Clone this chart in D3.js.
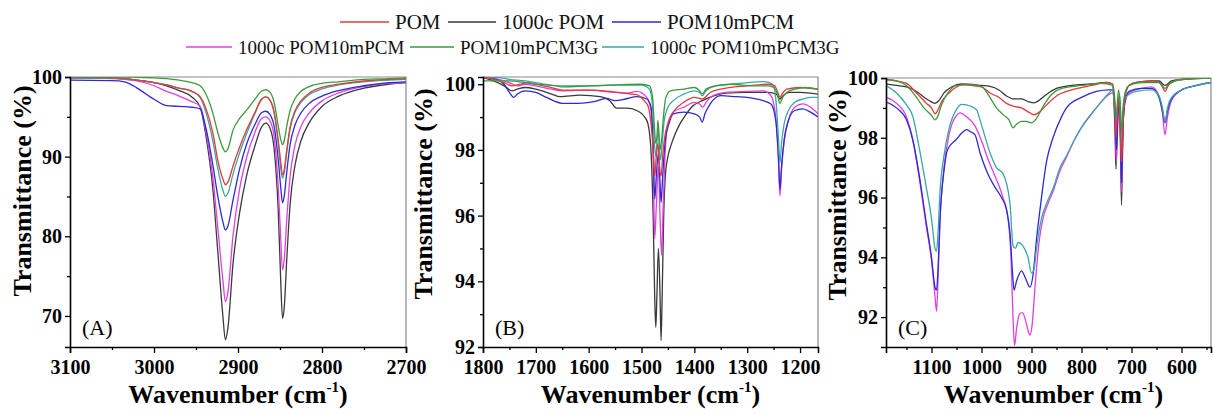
<!DOCTYPE html>
<html><head><meta charset="utf-8">
<script src="https://cdn.jsdelivr.net/npm/d3@7"></script>
<style>
body{margin:0;background:#fff;}
svg text{font-family:"Liberation Serif","Times New Roman",serif;}
</style></head>
<body><svg id="c" width="1213" height="414"></svg>
<script>
// ---------------- DATA ----------------
const seriesNames = ["POM","1000c POM","POM10mPCM","1000c POM10mPCM","POM10mPCM3G","1000c POM10mPCM3G"];
const seriesColors = ["#e23a3a","#3a3a3a","#2b2bd4","#e03fe0","#3c9a3c","#3aa6a6"];

// Panel A (3100-2700 cm-1)
const waveA = [3100,3050,3035,3020,3000,2985,2970,2955,2945,2938,2930,2924,2918,2915,2912,2906,2898,2890,2880,2872,2867,2862,2857,2852,2849,2847,2845,2842,2838,2832,2825,2815,2800,2780,2750,2720,2700];
const A_POM = [99.95,99.9,99.8,99.6,99.3,99.0,98.6,98.2,97.5,96,93,89.5,87.2,86.5,86.8,88.8,91.2,93.3,95.5,97.2,97.5,97.1,95.6,92,89.2,87.7,88.3,90.8,93.7,95.8,97,98,98.7,99.1,99.5,99.7,99.8];
const A_1000cPOM = [99.9,99.85,99.75,99.6,99.3,98.9,98.3,97.5,96.2,92.5,86,78,70,67,68.5,76.5,83,87.5,91.3,93.7,94.2,93.6,91,83,74,69.7,71,77,84,89,92,94.3,96.3,97.6,98.6,99.1,99.3];
const A_POM10mPCM = [99.6,99.55,99.4,98.6,97.2,96.4,96.3,96.2,96.0,93.5,89,85,81.8,80.8,81.3,84.5,88.5,91.5,94,95.5,95.7,95.3,93.8,89.5,86,84.2,85,88,91.5,94,95.5,96.7,97.6,98.3,98.9,99.3,99.4];
const A_1000cPOM10mPCM = [99.9,99.8,99.7,99.5,98.9,98.2,97.6,96.9,96.3,93,87.5,81,74.5,71.8,73,80,86,89.8,93,94.8,95.0,94.5,92.5,86,79.5,75.8,77,82,87.5,91.5,93.8,95.5,97,98,98.8,99.2,99.3];
const A_POM10mPCM3G = [100,100,100,99.95,99.9,99.8,99.6,99.3,98.9,97.8,95.5,93,91.1,90.6,91,93.3,94.8,95.8,97.2,98.2,98.4,98.1,96.8,93.8,92.1,91.5,92,93.8,95.8,97.3,98.2,98.8,99.2,99.4,99.7,99.8,99.9];
const A_1000cPOM10mPCM3G = [99.9,99.85,99.75,99.6,99.3,99.0,98.6,98.2,97.4,95.5,92,88.5,85.8,85.0,85.4,87.8,90.5,92.8,95.4,97.2,97.5,97.1,95.5,91.5,88.5,87.3,88,90.5,93.5,95.6,96.8,97.8,98.5,99.0,99.4,99.6,99.7];

// Panel B (1800-1166 cm-1) [wavenumber, %T]
const B_POM = [[1800,100.2],[1780,100.15],[1760,100.05],[1745,99.95],[1730,100.0],[1715,100.05],[1700,100.0],[1670,99.9],[1650,99.82],[1620,99.82],[1600,99.82],[1560,99.78],[1530,99.72],[1509,99.68],[1495,99.5],[1488,99.35],[1482,98.8],[1478,98.0],[1475,97.2],[1472,97.8],[1469,98.2],[1466,97.5],[1463,97.2],[1460,97.8],[1456,98.4],[1450,98.8],[1440,99.15],[1420,99.45],[1400,99.6],[1385,99.55],[1370,99.75],[1350,99.85],[1300,99.95],[1260,100.0],[1248,99.95],[1242,99.75],[1238,99.6],[1234,99.7],[1225,99.85],[1200,99.9],[1166,99.85]];
const B_1000cPOM = [[1800,100.2],[1780,100.1],[1760,99.95],[1745,99.8],[1735,99.85],[1720,99.9],[1700,99.85],[1670,99.7],[1654,99.62],[1616,99.67],[1578,99.62],[1560,99.5],[1547,99.27],[1528,99.27],[1509,99.2],[1490,98.9],[1483,98.2],[1478,96.0],[1475,93.5],[1473,92.6],[1471,93.5],[1468,95.0],[1465,93.6],[1463,92.2],[1461,93.5],[1458,96.0],[1455,97.2],[1450,97.8],[1445,98.1],[1436,98.5],[1427,98.8],[1415,99.1],[1402,99.35],[1385,99.5],[1371,99.6],[1340,99.73],[1300,99.75],[1260,99.75],[1245,99.7],[1238,99.55],[1232,99.65],[1220,99.75],[1200,99.75],[1166,99.7]];
const B_POM10mPCM = [[1800,100.2],[1775,100.15],[1760,100.0],[1750,99.75],[1742,99.6],[1735,99.7],[1720,99.8],[1700,99.75],[1680,99.6],[1650,99.42],[1620,99.42],[1590,99.47],[1566,99.57],[1550,99.5],[1530,99.55],[1509,99.62],[1490,99.55],[1482,99.3],[1478,98.2],[1475,96.5],[1472,97.2],[1468,97.9],[1465,97.0],[1463,96.4],[1460,97.2],[1455,98.3],[1448,98.8],[1440,99.1],[1420,99.15],[1400,99.1],[1390,99.0],[1385,98.85],[1380,99.1],[1370,99.4],[1350,99.65],[1320,99.62],[1300,99.6],[1270,99.5],[1255,99.4],[1246,98.9],[1241,97.8],[1238,96.8],[1235,97.5],[1230,98.3],[1222,98.9],[1210,99.2],[1195,99.25],[1180,99.15],[1166,99.0]];
const B_1000cPOM10mPCM = [[1800,100.2],[1770,100.15],[1750,100.05],[1735,99.95],[1720,100.0],[1700,99.95],[1670,99.85],[1650,99.8],[1600,99.82],[1550,99.75],[1528,99.73],[1509,99.78],[1490,99.6],[1482,99.2],[1478,97.8],[1475,95.3],[1472,96.3],[1468,97.5],[1465,96.0],[1462,94.8],[1459,96.3],[1455,98.0],[1450,98.8],[1440,99.15],[1420,99.3],[1400,99.45],[1390,99.4],[1384,99.3],[1378,99.45],[1365,99.65],[1340,99.75],[1300,99.78],[1270,99.8],[1255,99.65],[1246,99.0],[1241,97.8],[1238,96.6],[1235,97.4],[1230,98.3],[1222,98.9],[1210,99.3],[1195,99.4],[1180,99.3],[1166,99.1]];
const B_POM10mPCM3G = [[1800,100.1],[1770,100.1],[1750,100.1],[1720,100.05],[1700,100.0],[1660,99.95],[1650,99.92],[1600,99.95],[1550,99.98],[1500,100.0],[1485,99.95],[1479,99.6],[1476,98.8],[1473,98.2],[1470,98.6],[1469,98.9],[1467,98.5],[1465,98.0],[1462,98.3],[1458,99.1],[1454,99.6],[1445,99.8],[1420,99.85],[1400,99.9],[1390,99.8],[1385,99.7],[1378,99.85],[1360,99.95],[1330,100.0],[1290,99.95],[1260,99.95],[1250,99.9],[1243,99.7],[1238,99.42],[1233,99.6],[1225,99.75],[1210,99.85],[1190,99.9],[1166,99.85]];
const B_1000cPOM10mPCM3G = [[1800,100.2],[1770,100.2],[1750,100.15],[1720,100.1],[1700,100.05],[1660,99.95],[1600,99.95],[1550,99.97],[1500,99.97],[1485,99.85],[1479,99.3],[1476,98.3],[1473,97.8],[1470,98.4],[1468,98.6],[1466,98.0],[1464,97.7],[1461,98.2],[1457,98.9],[1450,99.3],[1440,99.5],[1420,99.7],[1400,99.8],[1390,99.75],[1385,99.65],[1378,99.8],[1360,99.95],[1330,100.0],[1300,100.05],[1270,100.08],[1258,100.05],[1250,99.95],[1245,99.4],[1241,98.4],[1238,97.6],[1235,98.2],[1230,98.8],[1222,99.2],[1210,99.45],[1195,99.55],[1180,99.6],[1166,99.6]];

// Panel C (1191-541 cm-1)
const C_POM = [[1191,99.95],[1170,99.9],[1150,99.82],[1130,99.5],[1110,99.15],[1100,99.0],[1093,98.8],[1088,98.9],[1080,99.2],[1065,99.5],[1050,99.7],[1037,99.78],[1020,99.75],[1000,99.7],[983,99.5],[965,99.35],[950,99.15],[935,99.05],[920,99.0],[905,98.85],[895,98.77],[885,98.85],[870,99.1],[850,99.4],[820,99.6],[780,99.75],[750,99.85],[738,99.8],[733,99.2],[731,98.0],[728,99.0],[725,99.3],[723,98.5],[720,97.2],[717,98.5],[713,99.4],[705,99.75],[690,99.85],[660,99.9],[645,99.85],[638,99.7],[633,99.55],[628,99.7],[620,99.85],[600,99.95],[570,99.98],[541,100.0]];
const C_1000cPOM = [[1191,99.8],[1170,99.75],[1150,99.7],[1130,99.55],[1110,99.3],[1100,99.2],[1093,99.15],[1085,99.25],[1075,99.5],[1060,99.7],[1040,99.8],[1000,99.75],[983,99.72],[965,99.6],[950,99.4],[935,99.3],[920,99.3],[905,99.2],[895,99.17],[885,99.25],[870,99.45],[850,99.65],[820,99.75],[780,99.8],[750,99.85],[738,99.8],[733,98.2],[731,96.95],[729,98.2],[726,99.2],[723,98.5],[720,95.75],[717,98.3],[713,99.4],[705,99.75],[690,99.85],[660,99.9],[645,99.9],[633,99.75],[620,99.9],[600,99.95],[541,100.0]];
const C_POM10mPCM = [[1191,99.2],[1170,99.0],[1150,98.6],[1137,97.9],[1125,96.8],[1110,95.1],[1100,94.0],[1093,93.0],[1090,92.9],[1087,93.6],[1083,95.3],[1075,96.9],[1068,97.6],[1050,97.95],[1040,98.15],[1030,98.27],[1022,98.2],[1013,98.1],[1003,97.5],[990,96.9],[975,96.4],[960,96.0],[950,95.6],[943,94.8],[938,93.5],[935,92.9],[930,93.2],[920,93.55],[912,93.3],[903,93.0],[897,93.4],[890,94.6],[880,96.0],[870,97.2],[857,98.0],[840,98.7],[830,99.0],[800,99.35],[770,99.55],[745,99.6],[738,99.6],[733,98.8],[730,97.6],[727,98.8],[724,99.2],[722,98.3],[720,96.5],[717,98.4],[713,99.2],[705,99.55],[680,99.65],[660,99.65],[645,99.35],[638,98.9],[633,98.5],[628,98.9],[620,99.3],[600,99.6],[570,99.75],[541,99.85]];
const C_1000cPOM10mPCM = [[1191,99.35],[1170,99.15],[1150,98.7],[1137,97.9],[1125,96.7],[1110,95.0],[1100,93.9],[1093,92.7],[1090,92.2],[1087,93.2],[1083,95.2],[1075,97.0],[1065,98.1],[1050,98.75],[1043,98.83],[1030,98.7],[1013,98.4],[1000,97.9],[985,97.2],[970,96.6],[957,96.0],[947,95.3],[941,94.0],[937,92.0],[934,91.05],[930,91.6],[924,92.1],[918,92.15],[912,91.9],[906,91.5],[903,91.4],[899,91.7],[893,93.0],[885,94.5],[877,95.3],[867,95.8],[857,96.2],[843,96.9],[830,97.35],[815,97.9],[800,98.35],[780,98.8],[763,99.15],[745,99.45],[738,99.5],[733,98.6],[730,97.2],[727,98.8],[724,99.2],[722,98.2],[720,96.2],[717,98.3],[713,99.2],[705,99.5],[680,99.65],[660,99.7],[645,99.4],[638,98.8],[633,98.1],[628,98.7],[620,99.25],[600,99.6],[570,99.75],[541,99.85]];
const C_POM10mPCM3G = [[1191,99.95],[1170,99.9],[1150,99.75],[1130,99.35],[1115,99.0],[1100,98.75],[1093,98.6],[1088,98.7],[1080,99.1],[1065,99.55],[1050,99.75],[1020,99.78],[1000,99.72],[985,99.4],[970,99.0],[955,98.75],[945,98.6],[937,98.33],[930,98.45],[920,98.55],[910,98.55],[900,98.5],[890,98.65],[875,99.1],[860,99.45],[840,99.65],[800,99.75],[760,99.82],[738,99.75],[733,99.0],[731,98.6],[729,99.0],[726,99.6],[723,99.2],[720,98.2],[717,99.0],[713,99.5],[705,99.75],[680,99.85],[645,99.85],[633,99.65],[625,99.8],[600,99.95],[541,100.0]];
const C_1000cPOM10mPCM3G = [[1191,99.75],[1170,99.5],[1150,99.1],[1137,98.7],[1125,97.7],[1110,96.3],[1100,95.3],[1093,94.3],[1090,94.2],[1087,94.8],[1083,96.2],[1075,97.4],[1065,98.3],[1050,98.95],[1040,99.12],[1030,99.1],[1010,98.94],[1003,98.6],[983,97.5],[970,97.0],[957,96.8],[943,95.8],[937,94.4],[932,94.3],[927,94.5],[918,94.4],[907,94.0],[900,93.47],[895,93.6],[890,94.3],[880,95.3],[870,95.8],[857,96.3],[843,97.0],[830,97.4],[815,97.9],[800,98.35],[780,98.8],[763,99.15],[745,99.5],[738,99.6],[733,99.0],[730,98.6],[727,99.2],[724,99.45],[722,99.0],[720,97.8],[717,98.8],[713,99.3],[705,99.45],[690,99.55],[660,99.6],[645,99.4],[638,99.0],[633,98.55],[628,99.0],[620,99.35],[600,99.6],[570,99.75],[541,99.85]];

// Axis ticks
const A_xMajor = [3100,3000,2900,2800,2700], A_xMinor = [3050,2950,2850,2750];
const A_yMajor = [70,80,90,100], A_yMinor = [75,85,95];
const B_xMajor = [1800,1700,1600,1500,1400,1300,1200], B_xMinor = [1750,1650,1550,1450,1350,1250];
const B_yMajor = [92,94,96,98,100], B_yMinor = [93,95,97,99];
const C_xMajor = [1100,1000,900,800,700,600], C_xMinor = [1150,1050,950,850,750,650,550];
const C_yMajor = [92,94,96,98,100], C_yMinor = [93,95,97,99];
const panelLabels = ["(A)","(B)","(C)"];

// ---------------- DRAW ----------------
const FONT = '"Liberation Serif","Times New Roman",serif';
const svg = d3.select("#c");
const zip = (w, v) => w.map((d, i) => [d, v[i]]);

const panels = [
  {box:{l:70,r:406,t:77,b:347}, xd:[3100,2700], yd:[66.1,100],
   series:[zip(waveA,A_POM),zip(waveA,A_1000cPOM),zip(waveA,A_POM10mPCM),zip(waveA,A_1000cPOM10mPCM),zip(waveA,A_POM10mPCM3G),zip(waveA,A_1000cPOM10mPCM3G)],
   xMaj:A_xMajor,xMin:A_xMinor,yMaj:A_yMajor,yMin:A_yMinor,ylx:24,yly:191,lab:panelLabels[0]},
  {box:{l:483,r:818,t:77,b:347}, xd:[1800,1166], yd:[92,100.22],
   series:[B_POM,B_1000cPOM,B_POM10mPCM,B_1000cPOM10mPCM,B_POM10mPCM3G,B_1000cPOM10mPCM3G],
   xMaj:B_xMajor,xMin:B_xMinor,yMaj:B_yMajor,yMin:B_yMinor,ylx:425,yly:194,lab:panelLabels[1]},
  {box:{l:886,r:1211,t:78,b:347}, xd:[1191,541], yd:[91.0,100],
   series:[C_POM,C_1000cPOM,C_POM10mPCM,C_1000cPOM10mPCM,C_POM10mPCM3G,C_1000cPOM10mPCM3G],
   xMaj:C_xMajor,xMin:C_xMinor,yMaj:C_yMajor,yMin:C_yMinor,ylx:839,yly:195,lab:panelLabels[2]}
];

const drawOrder = [1,3,2,5,0,4];

panels.forEach((p, pi) => {
  const b = p.box;
  const x = d3.scaleLinear().domain(p.xd).range([b.l, b.r]);
  const y = d3.scaleLinear().domain(p.yd).range([b.b, b.t]);
  const g = svg.append("g");
  const cid = "clip" + pi;
  svg.append("clipPath").attr("id", cid).append("rect")
    .attr("x", b.l).attr("y", b.t).attr("width", b.r - b.l).attr("height", b.b - b.t);

  g.append("path").attr("d", `M${b.l},${b.t}H${b.r}V${b.b}`)
    .attr("fill","none").attr("stroke","#8a8a8a").attr("stroke-width",1.2);

  const line = d3.line().x(d => x(d[0])).y(d => y(d[1])).curve(d3.curveMonotoneX);
  const lg = g.append("g").attr("clip-path", `url(#${cid})`);
  drawOrder.forEach(si => {
    lg.append("path").datum(p.series[si]).attr("d", line)
      .attr("fill","none").attr("stroke", seriesColors[si]).attr("stroke-width",1.3)
      .attr("stroke-linejoin","round");
  });

  const fmt = d3.format("d");
  const xa = g.append("g").attr("transform",`translate(0,${b.b})`)
    .call(d3.axisBottom(x).tickValues(p.xMaj).tickFormat(fmt).tickSize(6).tickPadding(7));
  g.append("g").attr("transform",`translate(0,${b.b})`)
    .call(d3.axisBottom(x).tickValues(p.xMin).tickFormat("").tickSize(3)).select(".domain").remove();
  const ya = g.append("g").attr("transform",`translate(${b.l},0)`)
    .call(d3.axisLeft(y).tickValues(p.yMaj).tickFormat(fmt).tickSize(5).tickPadding(3));
  g.append("g").attr("transform",`translate(${b.l},0)`)
    .call(d3.axisLeft(y).tickValues(p.yMin).tickFormat("").tickSize(3)).select(".domain").remove();
  g.selectAll(".tick line").attr("stroke","#000").attr("stroke-width",1.3);
  [xa, ya].forEach(a => {
    a.select(".domain").attr("stroke","#000").attr("stroke-width",1.6);
    a.selectAll("text").style("font-family",FONT)
      .attr("font-size",20).attr("font-weight","bold").attr("fill","#000");
  });

  const xt = g.append("text").attr("x",(b.l+b.r)/2 + (pi===2?5:0)).attr("y",403)
    .attr("text-anchor","middle").attr("font-size",26).attr("font-weight","bold");
  xt.append("tspan").text("Wavenumber (cm");
  xt.append("tspan").text("-1").attr("font-size",15).attr("dy",-11);
  xt.append("tspan").text(")").attr("dy",11);

  g.append("text").attr("transform",`translate(${p.ylx + 7},${p.yly}) rotate(-90)`)
    .attr("text-anchor","middle").attr("font-size",26).attr("font-weight","bold")
    .text("Transmittance (%)");

  g.append("text").attr("x", b.l + 12).attr("y", 335).attr("font-size",22).text(p.lab);
});

// legend (item positions as in the original figure)
const legendItems = [
  {i:0, y:22, lx:340, tx:395, size:21},
  {i:1, y:22, lx:448, tx:502, size:21},
  {i:2, y:22, lx:612, tx:667, size:21},
  {i:3, y:47, lx:186, tx:238, size:19},
  {i:4, y:47, lx:410, tx:460, size:19},
  {i:5, y:47, lx:602, tx:650, size:19}
];
legendItems.forEach(it => {
  svg.append("line").attr("x1",it.lx).attr("x2",it.tx-6).attr("y1",it.y).attr("y2",it.y)
    .attr("stroke",seriesColors[it.i]).attr("stroke-width",1.3);
  svg.append("text").attr("x",it.tx).attr("y",it.y+7).attr("font-size",it.size)
    .style("font-family",FONT).attr("fill","#111").text(seriesNames[it.i]);
});
</script>
</body></html>
